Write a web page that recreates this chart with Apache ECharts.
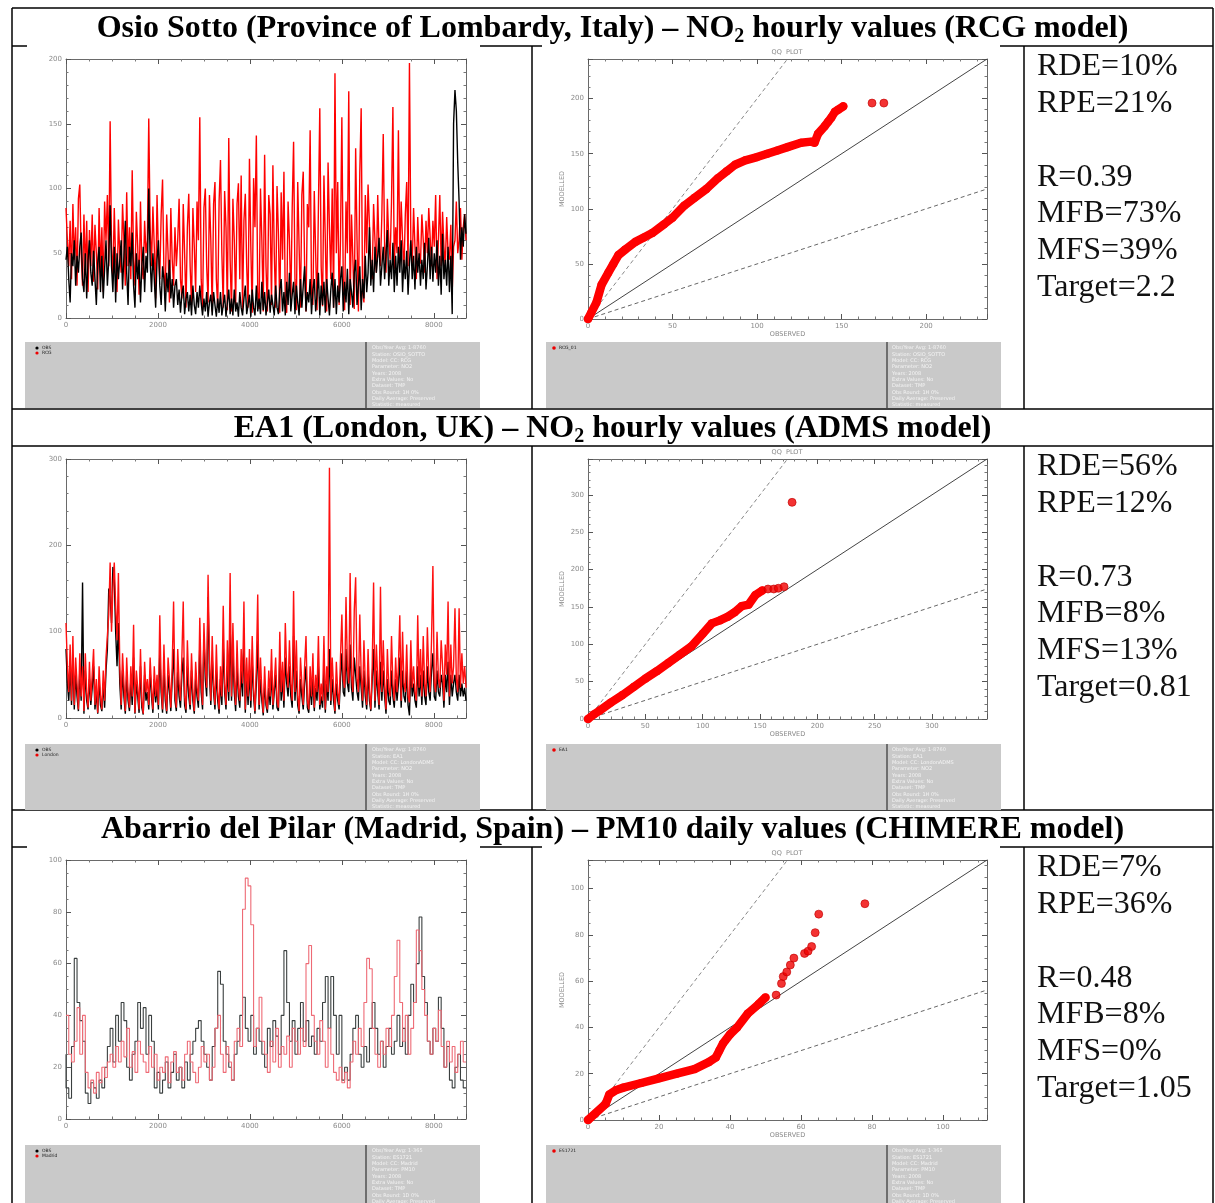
<!DOCTYPE html>
<html><head><meta charset="utf-8">
<script src="https://cdn.jsdelivr.net/npm/echarts@6/dist/echarts.min.js"></script>
<style>html,body{margin:0;padding:0;background:#fff;}#c{width:1215px;height:1203px;}</style>
</head><body><div id="c"></div><script>
// ---------- DATA ----------
const TS_STEP_H = [30, 30, 60]; // hours between plotted samples, per row
// Osio Sotto, NO2 hourly (observed black / RCG red)
const OBS_1 = [45,55,30,12,50,40,60,25,48,35,55,66,30,20,50,15,45,60,35,25,
  52,30,10,42,55,20,48,15,38,60,25,45,87,40,20,55,12,50,30,45,
  60,22,48,75,35,10,55,40,66,25,8,50,30,45,12,40,55,20,48,35,
  100,45,20,50,30,8,45,60,25,10,40,30,5,35,20,45,15,30,8,25,
  30,10,22,4,18,25,3,15,20,5,18,2,25,10,3,20,8,25,12,2,
  15,5,20,1,12,18,2,20,10,1,15,4,20,2,10,18,1,12,22,3,
  15,2,22,5,12,1,20,8,2,15,25,3,10,18,1,22,8,2,25,5,
  15,3,28,6,20,2,12,22,4,18,10,2,25,8,3,22,30,5,20,2,
  28,10,35,5,18,28,3,25,12,2,30,8,25,40,5,20,12,30,3,22,
  30,5,18,35,2,25,10,28,4,30,15,2,22,35,8,30,3,25,12,30,
  40,5,28,12,38,3,30,20,8,35,45,10,25,40,6,30,15,48,20,35,
  70,25,45,20,55,35,48,62,25,40,55,30,50,68,25,45,30,58,20,48,
  25,55,35,60,20,45,30,52,18,42,60,30,48,22,55,35,50,25,45,30,
  58,22,40,62,30,55,28,50,35,60,25,48,18,65,30,45,25,55,20,48,
  3,150,176,160,120,90,45,70,55,80,65];
const MOD_1 = [85,60,40,75,30,88,45,70,25,92,103,50,25,80,35,75,20,68,40,80,
  28,72,50,22,85,35,70,20,90,60,95,40,152,55,30,85,45,20,76,50,
  35,88,60,25,97,40,70,30,114,45,25,82,55,18,90,40,30,75,50,60,
  154,70,40,86,55,15,95,50,30,80,107,35,20,80,50,12,85,45,25,70,
  40,60,92,30,15,88,50,8,70,96,40,10,85,55,20,90,60,155,30,6,
  85,100,40,12,95,60,5,88,105,30,8,90,122,50,8,98,70,6,139,45,
  5,92,60,10,88,104,30,110,6,75,96,40,8,123,55,4,108,70,141,20,
  7,100,60,5,126,40,5,95,80,10,118,50,8,102,65,4,97,45,113,10,
  4,90,60,10,85,136,30,6,105,55,8,95,113,40,5,88,70,145,20,10,
  98,50,6,85,162,40,9,110,60,5,120,70,30,100,8,189,50,105,10,60,
  155,30,6,90,50,175,10,80,45,7,131,60,5,112,162,20,12,95,50,103,
  103,40,30,88,60,35,95,50,40,80,142,55,35,92,60,45,90,163,38,70,
  50,145,45,90,60,35,80,105,40,197,60,40,85,55,30,78,50,42,80,60,
  35,75,50,85,85,40,75,55,95,30,60,95,40,82,55,40,78,50,45,72,
  20,55,60,90,50,60,85,45,70,80,60];
// EA1 London, NO2 hourly (observed black / ADMS red)
const OBS_2 = [80,40,20,60,15,70,10,50,25,8,55,20,157,5,55,20,10,45,15,35,
  60,10,30,5,45,15,8,40,12,55,80,150,140,110,175,160,100,60,110,40,
  10,55,25,5,50,20,8,45,15,70,5,40,25,6,60,12,4,50,20,30,
  10,55,25,6,45,18,35,10,75,30,6,60,20,5,50,30,8,45,80,20,
  8,55,25,12,50,70,15,6,60,25,10,55,20,5,45,25,12,85,30,10,
  95,45,25,140,50,15,70,30,10,55,20,5,45,15,85,30,10,60,20,110,
  20,75,30,8,60,25,12,55,25,95,6,50,15,55,12,65,25,5,40,90,
  10,45,20,3,40,15,6,35,15,55,10,30,50,12,8,70,20,45,12,70,
  40,25,60,25,12,95,20,55,15,5,45,25,10,40,60,12,6,40,15,45,
  8,35,20,60,10,25,12,55,6,40,20,80,15,45,20,5,40,20,10,45,
  75,30,25,80,40,30,85,35,20,70,70,30,20,60,35,12,55,25,10,55,
  20,8,45,80,12,55,30,10,65,20,55,25,5,45,20,15,55,25,12,45,
  20,40,70,12,55,25,18,55,15,3,60,25,40,20,12,60,25,50,15,55,
  25,15,60,30,20,55,75,25,20,55,30,25,50,40,12,50,30,65,15,50,
  25,40,50,30,20,50,25,40,25,35,20];
const MOD_2 = [110,60,30,85,20,95,15,70,40,10,75,25,60,8,75,30,12,65,20,50,
  80,15,45,6,60,25,10,55,20,70,95,120,180,100,150,180,130,90,168,60,
  15,75,40,8,70,30,12,60,25,108,6,55,35,10,80,20,5,65,30,45,
  15,70,35,10,60,25,50,15,119,40,10,85,30,8,70,45,12,60,135,30,
  12,80,40,20,70,135,25,10,90,40,15,75,30,8,65,35,20,116,45,15,
  110,60,35,166,70,20,95,40,15,85,30,10,60,25,130,40,15,90,30,168,
  25,110,45,15,90,35,20,80,40,135,10,70,25,80,20,95,35,8,60,143,
  15,70,30,6,60,20,10,55,25,80,15,40,70,20,12,100,30,65,20,110,
  55,35,90,40,20,147,30,90,25,8,70,40,15,60,95,20,10,60,25,75,
  12,50,30,95,15,40,20,95,10,60,30,290,20,70,35,8,65,30,15,70,
  120,45,35,140,60,40,168,50,30,125,163,45,30,120,50,20,90,40,15,80,
  30,10,60,157,20,85,45,15,152,30,90,40,10,80,35,25,95,40,20,70,
  30,60,119,20,100,40,30,85,25,18,90,35,60,30,20,119,35,80,25,95,
  40,25,105,50,30,90,176,40,30,100,45,35,90,60,20,85,50,135,25,85,
  40,60,127,45,30,127,35,75,40,60,35];
// Abarrio del Pilar Madrid, PM10 daily (observed black / CHIMERE red)
const OBS_3 = [25,12,8,28,62,45,38,30,10,6,14,12,8,15,12,20,28,35,22,40,30,45,38,20,15,25,30,45,35,43,25,40,30,12,18,10,15,22,12,18,25,15,20,12,22,15,25,30,35,38,30,25,20,15,28,35,57,52,30,25,20,15,25,30,40,47,35,30,40,25,35,30,25,20,35,28,38,32,25,40,65,45,30,38,25,35,45,30,38,28,32,25,35,30,45,55,35,55,40,25,40,15,20,15,25,35,40,25,20,28,22,35,45,35,25,30,20,28,35,25,30,40,28,35,25,40,52,45,60,78,55,45,30,25,35,30,47,35,20,28,15,12,20,25,15,12];
const MOD_3 = [40,40,25,22,30,43,25,40,18,12,15,10,18,14,20,16,22,25,20,28,22,30,24,35,20,26,18,30,25,22,18,28,20,25,15,20,18,24,14,22,26,18,20,15,25,30,22,18,14,20,28,22,25,15,20,35,40,25,18,28,22,15,30,35,28,81,93,90,75,28,35,47,30,25,18,30,22,35,20,28,25,32,20,35,30,25,35,28,60,67,40,30,25,38,30,20,35,25,18,15,20,14,18,12,22,30,25,35,28,45,62,58,35,25,20,30,25,35,28,40,55,69,45,30,40,25,35,45,73,65,50,40,30,25,35,30,42,28,20,30,22,28,18,25,30,22];
// QQ plots: dense quantile curve + isolated points
const QQ1_OBS = [0,2,5,8,12,15,18,22,28,33,38,45,50,57,63,70,77,82,87,93,100,106,112,118,126,132,134,136,140,142,144,146,148,151];
const QQ1_MOD = [0,6,15,31,42,50,58,63,70,74,78,86,92,103,110,118,128,134,140,144,147,150,153,156,160,161,160,168,175,179,183,188,190,193];
const QQ1_OUT_OBS = [168,175];
const QQ1_OUT_MOD = [196,196];
const QQ2_OBS = [0,5,10,20,30,40,50,60,70,80,90,100,108,115,122,128,134,140,146,152];
const QQ2_MOD = [0,6,11,22,32,43,54,64,75,86,97,114,128,132,137,143,151,153,166,172];
const QQ2_OUT_OBS = [157,162,166,171,178];
const QQ2_OUT_MOD = [174,174,175,177,290];
const QQ3_OBS = [0,5,6,8,10,15,20,25,30,34,36,37,38,40,42,45,48,50];
const QQ3_MOD = [0,7,11,13,14,16,18,20,22,25,27,30,33,37,40,46,50,53];
const QQ3_OUT_OBS = [53,54.5,55,56,57,58,61,62,63,64,65,78];
const QQ3_OUT_MOD = [54,59,62,64,67,70,72,73,75,81,89,93.5];
// Axis ranges / ticks
const TS_X = {max:8700, interval:2000, minor:4};
const TS_Y = [{max:200, interval:50, minor:5},{max:300, interval:100, minor:5},{max:100, interval:20, minor:4}];
const QQ_AX = [{max:236, interval:50, minor:5},{max:348, interval:50, minor:5},{max:112.4, interval:20, minor:4}];
// Text
const TITLES = [
  ['Osio Sotto (Province of Lombardy, Italy) – NO','2',' hourly values (RCG model)'],
  ['EA1 (London, UK) – NO','2',' hourly values (ADMS model)'],
  ['Abarrio del Pilar (Madrid, Spain) – PM10 daily values (CHIMERE model)','','']
];
const STATS = [
  ['RDE=10%','RPE=21%','','R=0.39','MFB=73%','MFS=39%','Target=2.2'],
  ['RDE=56%','RPE=12%','','R=0.73','MFB=8%','MFS=13%','Target=0.81'],
  ['RDE=7%','RPE=36%','','R=0.48','MFB=8%','MFS=0%','Target=1.05']
];
const TS_LEGEND = [['OBS','RCG'],['OBS','London'],['OBS','Madrid']];
const QQ_LEGEND = ['RCG_01','EA1','ES1721'];
const META = [
  ['Obs/Year Avg: 1-8760','Station: OSIO_SOTTO','Model: CC: RCG','Parameter: NO2','Years: 2008','Extra Values: No','Dataset: TMP','Obs Round: 1H 0%','Daily Average: Preserved','Statistic: measured'],
  ['Obs/Year Avg: 1-8760','Station: EA1','Model: CC: LondonADMS','Parameter: NO2','Years: 2008','Extra Values: No','Dataset: TMP','Obs Round: 1H 0%','Daily Average: Preserved','Statistic: measured'],
  ['Obs/Year Avg: 1-365','Station: ES1721','Model: CC: Madrid','Parameter: PM10','Years: 2008','Extra Values: No','Dataset: TMP','Obs Round: 1D 0%','Daily Average: Preserved','Statistic: measured']
];

// ---------- LAYOUT ----------
const ROW_TOP = [46, 446, 847];
const GRIDS = [];
for (let r = 0; r < 3; r++) {
  GRIDS.push({left:66, top:ROW_TOP[r]+13, width:400, height:259});
  GRIDS.push({left:588, top:ROW_TOP[r]+13, width:399, height:260});
}

function axisPair(gi, spec, isX, name, nameGap) {
  const common = {type:'value', gridIndex:gi, min:0, max:spec.max, interval:spec.interval, silent:true,
    splitLine:{show:false},
    axisLine:{show:true, onZero:false, lineStyle:{color:'#6a6a6a', width:1}},
    axisTick:{show:true, inside:true, length:5, lineStyle:{color:'#555', width:1}},
    minorTick:{show:true, splitNumber:spec.minor, length:2.5, lineStyle:{color:'#777', width:1}}};
  const a = Object.assign({}, common, {position: isX ? 'bottom' : 'left',
    axisLabel:{show:true, fontSize:7, color:'#8a8a8a', margin:4, fontFamily:'DejaVu Sans',
      formatter: v => String(v), showMaxLabel: spec.max % spec.interval === 0}});
  if (name) {
    a.name = name; a.nameLocation = 'middle'; a.nameGap = nameGap;
    a.nameTextStyle = {fontSize:6.5, color:'#888', fontFamily:'DejaVu Sans'};
    if (!isX) a.nameRotate = 90;
  }
  const b = Object.assign({}, common, {position: isX ? 'top' : 'right', axisLabel:{show:false}});
  return [a, b];
}

const xAxes = [], yAxes = [], series = [];
for (let r = 0; r < 3; r++) {
  const gTs = 2*r, gQq = 2*r+1;
  xAxes.push(...axisPair(gTs, TS_X, true));
  yAxes.push(...axisPair(gTs, TS_Y[r], false));
  xAxes.push(...axisPair(gQq, QQ_AX[r], true, 'OBSERVED', 12));
  yAxes.push(...axisPair(gQq, QQ_AX[r], false, 'MODELLED', 22));
}

const TS_OBS = [OBS_1, OBS_2, OBS_3], TS_MOD = [MOD_1, MOD_2, MOD_3];
const TS_COL = [['#000000','#ff0000'],['#000000','#ff1010'],['#3a3f3f','#ee6a75']];
for (let r = 0; r < 3; r++) {
  const mk = (arr, col, z) => ({type:'line', xAxisIndex:4*r, yAxisIndex:4*r,
    data: arr.map((v,i)=>[i*TS_STEP_H[r], v]), symbol:'none', silent:true, animation:false,
    step: r === 2 ? 'start' : false, z:z, sampling:null,
    lineStyle:{color:col, width: r===2 ? 1.1 : 1.4}, itemStyle:{color:col}});
  if (r === 0) { series.push(mk(TS_MOD[r], TS_COL[r][1], 2)); series.push(mk(TS_OBS[r], TS_COL[r][0], 3)); }
  else { series.push(mk(TS_OBS[r], TS_COL[r][0], 2)); series.push(mk(TS_MOD[r], TS_COL[r][1], 3)); }
}
const QQ = [
  [QQ1_OBS, QQ1_MOD, QQ1_OUT_OBS, QQ1_OUT_MOD],
  [QQ2_OBS, QQ2_MOD, QQ2_OUT_OBS, QQ2_OUT_MOD],
  [QQ3_OBS, QQ3_MOD, QQ3_OUT_OBS, QQ3_OUT_MOD]
];
for (let r = 0; r < 3; r++) {
  const idx = 2*(2*r+1);
  const m = QQ_AX[r].max;
  const guide = (pts, dash, col) => ({type:'line', xAxisIndex:idx, yAxisIndex:idx, data:pts, symbol:'none',
    silent:true, animation:false, z:1, lineStyle:{color:col, width:1, type: dash ? [4,3] : 'solid'}});
  series.push(guide([[0,0],[m,m]], false, '#444'));
  series.push(guide([[0,0],[m/2,m]], true, '#888'));
  series.push(guide([[0,0],[m,m/2]], true, '#666'));
  const [ox, oy, px, py] = QQ[r];
  series.push({type:'line', xAxisIndex:idx, yAxisIndex:idx, data: ox.map((v,i)=>[v, oy[i]]),
    symbol:'circle', symbolSize:8, silent:true, animation:false, z:3,
    lineStyle:{color:'#ff0000', width:8.5, cap:'round', join:'round'}, itemStyle:{color:'#ff0000'}});
  series.push({type:'scatter', xAxisIndex:idx, yAxisIndex:idx, data: px.map((v,i)=>[v, py[i]]),
    symbolSize:8, silent:true, animation:false, z:3, itemStyle:{color:'#f00000', borderColor:'#c00000', borderWidth:0.8}});
}

// ---------- GRAPHICS (table, titles, stats, legend boxes) ----------
const G = [];
const L = (x1,y1,x2,y2,w) => G.push({type:'line', shape:{x1,y1,x2,y2}, style:{stroke:'#000', lineWidth:w||1.5}, silent:true});
const TITLE_Y = [29, 429, 830];
const ROW_BOT = [409, 810, 1203];
L(12,8,1213,8); L(12,8,12,1203); L(1213,8,1213,1203);
for (let r = 0; r < 3; r++) {
  const y = ROW_TOP[r];
  if (r === 1) L(12,y,1213,y);
  else { L(12,y,27,y); L(480,y,542,y); L(1000,y,1213,y); }
  if (r < 2) L(12,ROW_BOT[r],1213,ROW_BOT[r]);
  L(532,y,532,ROW_BOT[r]); L(1024,y,1024,ROW_BOT[r]);
  const t = TITLES[r];
  G.push({type:'text', x:612.5, y:TITLE_Y[r], silent:true, style:{
    text: '{b|'+t[0]+'}' + (t[1] ? '{s|'+t[1]+'}' : '') + (t[2] ? '{b|'+t[2]+'}' : ''),
    align:'center', verticalAlign:'middle', textAlign:'center', textVerticalAlign:'middle',
    rich:{b:{fontFamily:'Liberation Serif', fontWeight:'bold', fontSize:32, fill:'#000', color:'#000', lineHeight:34},
          s:{fontFamily:'Liberation Serif', fontWeight:'bold', fontSize:20, fill:'#000', color:'#000', lineHeight:34, padding:[15,0,0,0]}}}});
  G.push({type:'text', x:1037, y:y+2, silent:true, style:{text: STATS[r].join('\n'),
    font:'32px "Liberation Serif"', fontFamily:'Liberation Serif', fontSize:32, fill:'#111', lineHeight:36.9,
    align:'left', verticalAlign:'top', textAlign:'left', textVerticalAlign:'top'}});
  G.push({type:'text', x:787, y:y+6, silent:true, style:{text:'QQ  PLOT', fontFamily:'DejaVu Sans', fontSize:6.5, fill:'#888',
    align:'center', verticalAlign:'middle', textAlign:'center', textVerticalAlign:'middle'}});
  const by = r === 0 ? 342 : (r === 1 ? 744 : 1145);
  const bh = r === 2 ? 60 : 66;
  G.push({type:'rect', shape:{x:25,y:by,width:455,height:bh}, style:{fill:'#c9c9c9'}, silent:true});
  G.push({type:'rect', shape:{x:365,y:by,width:2,height:bh}, style:{fill:'#6e6e6e'}, silent:true});
  G.push({type:'rect', shape:{x:546,y:by,width:455,height:bh}, style:{fill:'#c9c9c9'}, silent:true});
  G.push({type:'rect', shape:{x:886,y:by,width:2,height:bh}, style:{fill:'#6e6e6e'}, silent:true});
  G.push({type:'circle', shape:{cx:37,cy:by+6,r:1.6}, style:{fill:'#000'}, silent:true});
  G.push({type:'circle', shape:{cx:37,cy:by+11,r:1.6}, style:{fill:'#e00'}, silent:true});
  G.push({type:'text', x:42, y:by+3, silent:true, style:{text:TS_LEGEND[r].join('\n'), fontFamily:'DejaVu Sans', fontSize:4.5, lineHeight:5, fill:'#222'}});
  G.push({type:'circle', shape:{cx:554,cy:by+6,r:1.8}, style:{fill:'#e00'}, silent:true});
  G.push({type:'text', x:559, y:by+3.5, silent:true, style:{text:QQ_LEGEND[r], fontFamily:'DejaVu Sans', fontSize:4.5, fill:'#222'}});
  G.push({type:'text', x:372, y:by+3, silent:true, style:{text:META[r].join('\n'), fontFamily:'DejaVu Sans', fontSize:5, lineHeight:6.3, fill:'#f4f4f4'}});
  G.push({type:'text', x:892, y:by+3, silent:true, style:{text:META[r].join('\n'), fontFamily:'DejaVu Sans', fontSize:5, lineHeight:6.3, fill:'#f4f4f4'}});
}

const chart = echarts.init(document.getElementById('c'), null, {renderer:'canvas'});
chart.setOption({
  animation:false, backgroundColor:'#ffffff',
  grid: GRIDS, xAxis: xAxes, yAxis: yAxes, series: series,
  graphic: {elements: G}
});
</script></body></html>
